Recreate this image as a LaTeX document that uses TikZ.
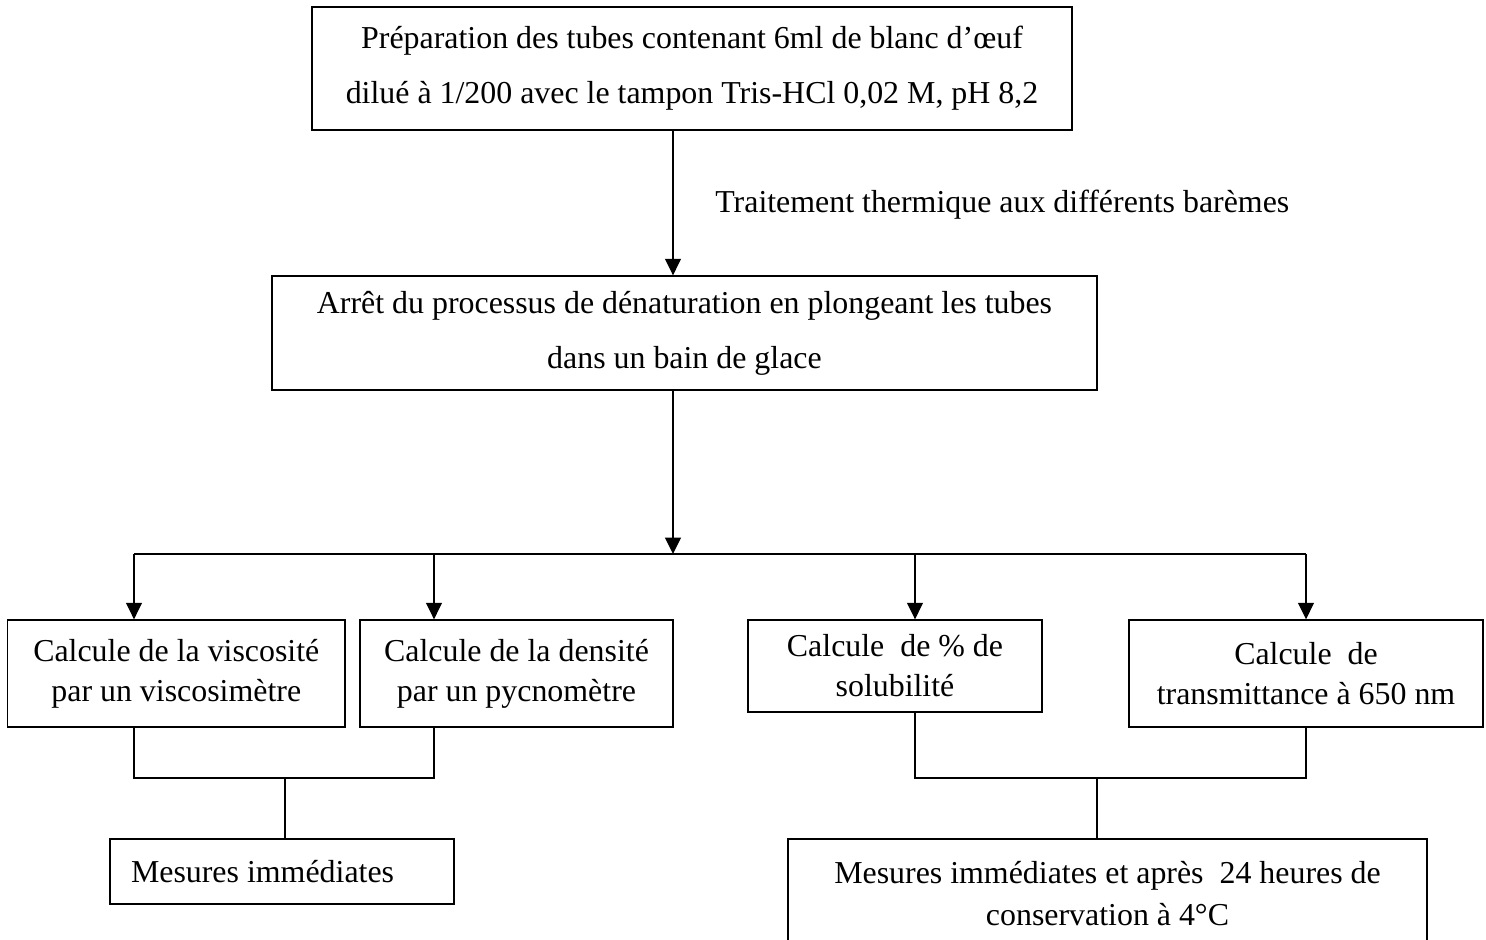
\documentclass[tikz,border=0pt]{standalone}
\usepackage{fontspec}
\setmainfont{Liberation Serif}
\usetikzlibrary{arrows.meta}
\tikzset{
    stepbox/.style={draw=black, line width=0.8pt, align=center, inner sep=0pt, font=\fontsize{18.15}{22.8}\selectfont},
    tallstep/.style={stepbox, font=\fontsize{18.15}{31.3}\selectfont},
    flowline/.style={line width=0.8pt},
    flowarrow/.style={flowline, -{Triangle[length=0.33cm, width=0.32cm]}},
}

\begin{document}
\begin{tikzpicture}
    \newcommand\barY{-11.08}
    \newcommand\joinY{-15.56}

    \useasboundingbox (0,0) rectangle (29.72,-18.78);
    \clip (0,0) rectangle (29.72,-18.78);

    \node[tallstep, minimum width=15.2cm, minimum height=2.46cm] (prep) at (13.84,-1.37){Préparation des tubes contenant 6ml de blanc d’œuf\\dilué à 1/200 avec le tampon Tris-HCl 0,02 M, pH 8,2};
    \node[tallstep, minimum width=16.5cm, minimum height=2.28cm] (stop) at (13.69,-6.66){Arrêt du processus de dénaturation en plongeant les tubes\\dans un bain de glace};
    \node[anchor=base west, inner sep=0pt, font=\fontsize{18.15}{22.8}\selectfont] (heat) at (14.3,-4.24){Traitement thermique aux différents barèmes};

    \node[stepbox, minimum width=6.75cm, minimum height=2.14cm] (visc) at (3.526,-13.47){Calcule de la viscosité\\par un viscosimètre};
    \node[stepbox, minimum width=6.26cm, minimum height=2.14cm] (dens) at (10.33,-13.47){Calcule de la densité\\par un pycnomètre};
    \node[stepbox, minimum width=5.88cm, minimum height=1.84cm] (solu) at (17.9,-13.32){Calcule\ \ de \% de\\solubilité};
    \node[stepbox, minimum width=7.08cm, minimum height=2.14cm] (trans) at (26.12,-13.47){Calcule\ \ de\\transmittance à 650 nm};

    \node[stepbox, align=flush left, text width=6.04cm, inner xsep=0.42cm, minimum height=1.30cm] (mesA) at (5.64,-17.43){Mesures immédiates};
    \node[stepbox, font=\fontsize{18.15}{23.8}\selectfont, minimum width=12.78cm, minimum height=2.18cm] (mesB) at (22.15,-17.87){Mesures immédiates et après\ \ 24 heures de\\conservation à 4°C};

    \coordinate (split) at (13.46,\barY);
    \coordinate (colA) at (2.68,\barY);
    \coordinate (colB) at (8.68,\barY);
    \coordinate (colC) at (18.3,\barY);
    \coordinate (colD) at (26.12,\barY);
    \coordinate (joinL) at (5.7,\joinY);
    \coordinate (joinR) at (21.94,\joinY);

    \draw[flowarrow] (prep.south -| split) -- (stop.north -| split);
    \draw[flowarrow] (stop.south -| split) -- (split);
    \draw[flowline] (colA) -- (colD);
    \draw[flowarrow] (colA) -- (visc.north -| colA);
    \draw[flowarrow] (colB) -- (dens.north -| colB);
    \draw[flowarrow] (colC) -- (solu.north -| colC);
    \draw[flowarrow] (colD) -- (trans.north -| colD);

    \draw[flowline] (visc.south -| colA) |- (joinL) -| (dens.south -| colB);
    \draw[flowline] (joinL) -- (mesA.north -| joinL);
    \draw[flowline] (solu.south -| colC) |- (joinR) -| (trans.south -| colD);
    \draw[flowline] (joinR) -- (mesB.north -| joinR);
\end{tikzpicture}
\end{document}
